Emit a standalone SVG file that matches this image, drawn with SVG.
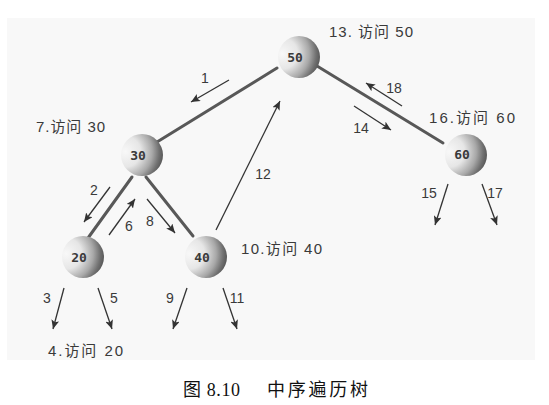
<svg xmlns="http://www.w3.org/2000/svg" width="549" height="405" viewBox="0 0 549 405">
<defs>
<radialGradient id="ball" cx="0.1" cy="0.42" r="0.92" fx="0.1" fy="0.42">
<stop offset="0" stop-color="#f8f8f8"/>
<stop offset="0.4" stop-color="#e6e6e6"/>
<stop offset="0.7" stop-color="#a8a8a8"/>
<stop offset="0.88" stop-color="#707070"/>
<stop offset="1" stop-color="#555"/>
</radialGradient>
<marker id="ah" markerUnits="userSpaceOnUse" markerWidth="10" markerHeight="8" refX="9" refY="4" orient="auto">
<path d="M0,0 L9,4 L0,8 L2,4 z" fill="#333"/>
</marker>
<style>
.edge{stroke:#585858;stroke-width:3;fill:none;stroke-linecap:round}
.arr{stroke:#333;stroke-width:1.3;fill:none;marker-end:url(#ah)}
.lbl{font-family:"Liberation Sans","Noto Sans CJK SC",sans-serif;font-size:15px;fill:#3a3a3a}
.num{font-family:"Liberation Sans",sans-serif;font-size:14px;fill:#3a3a3a;text-anchor:middle}
.key{font-family:"DejaVu Sans Mono",monospace;font-weight:bold;font-size:13px;fill:#3a3a3a;text-anchor:middle}
.ball{fill:url(#ball)}
.cap{font-family:"Liberation Serif","Noto Sans CJK SC",serif;font-size:18px;fill:#111}
</style>
</defs>
<rect x="7" y="18" width="528" height="342" fill="#f8f8f8"/>
<g id="connectors">
<line class="edge" x1="277" y1="68" x2="157" y2="142"/>
<line class="edge" x1="317" y1="66" x2="443" y2="143"/>
<line class="edge" x1="132" y1="177" x2="88" y2="238"/>
<line class="edge" x1="146" y1="177" x2="193" y2="236"/>
<line class="arr" x1="229" y1="80" x2="191" y2="102"/>
<line class="arr" x1="402" y1="106" x2="366" y2="83"/>
<line class="arr" x1="354" y1="106" x2="391" y2="130"/>
<line class="arr" x1="216" y1="230" x2="280" y2="101"/>
<line class="arr" x1="110" y1="187" x2="84" y2="222"/>
<line class="arr" x1="109" y1="235" x2="135" y2="199"/>
<line class="arr" x1="147" y1="199" x2="175" y2="233"/>
<line class="arr" x1="64" y1="288" x2="53" y2="329"/>
<line class="arr" x1="98" y1="288" x2="112" y2="329"/>
<line class="arr" x1="187" y1="288" x2="173" y2="329"/>
<line class="arr" x1="223" y1="288" x2="237" y2="329"/>
<line class="arr" x1="448" y1="184" x2="435" y2="225"/>
<line class="arr" x1="482" y1="184" x2="497" y2="225"/>
<text class="num" x="205" y="83">1</text>
<text class="num" x="394" y="93">18</text>
<text class="num" x="361" y="133">14</text>
<text class="num" x="263" y="179">12</text>
<text class="num" x="94" y="195">2</text>
<text class="num" x="129" y="231">6</text>
<text class="num" x="150" y="226">8</text>
<text class="num" x="47" y="303">3</text>
<text class="num" x="114" y="303">5</text>
<text class="num" x="170" y="303">9</text>
<text class="num" x="237" y="303">11</text>
<text class="num" x="429" y="198">15</text>
<text class="num" x="495" y="198">17</text>
</g>
<g id="node50">
<circle class="ball" cx="299" cy="57" r="21"/>
<text class="key" x="295" y="61.5">50</text>
<text class="lbl" x="329" y="37" textLength="84" lengthAdjust="spacing">13. 访问 50</text>
</g>
<g id="node30">
<circle class="ball" cx="142" cy="155" r="21"/>
<text class="key" x="138" y="159.5">30</text>
<text class="lbl" x="36" y="132" textLength="69" lengthAdjust="spacing">7.访问 30</text>
</g>
<g id="node60">
<circle class="ball" cx="466" cy="155" r="21"/>
<text class="key" x="462" y="158.5">60</text>
<text class="lbl" x="429" y="123" textLength="86" lengthAdjust="spacing">16.访问 60</text>
</g>
<g id="node20">
<circle class="ball" cx="83" cy="257" r="21"/>
<text class="key" x="79" y="261.5">20</text>
<text class="lbl" x="48" y="356" textLength="75" lengthAdjust="spacing">4.访问 20</text>
</g>
<g id="node40">
<circle class="ball" cx="206" cy="257" r="21"/>
<text class="key" x="202" y="261.5">40</text>
<text class="lbl" x="241" y="254" textLength="81" lengthAdjust="spacing">10.访问 40</text>
</g>
<g id="caption">
<text class="cap" x="183" y="396" textLength="57" lengthAdjust="spacing">图 8.10</text>
<text class="cap" x="267" y="396" textLength="101" lengthAdjust="spacing">中序遍历树</text>
</g>
</svg>
